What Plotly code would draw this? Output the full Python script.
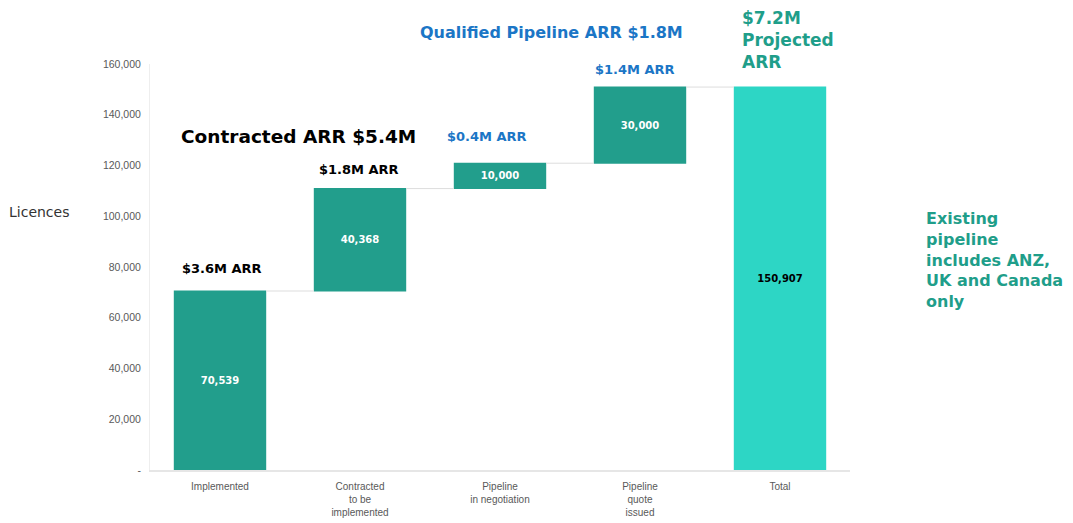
import plotly.graph_objects as go

categories = ["Implemented", "Contracted<br>to be<br>implemented", "Pipeline<br>in negotiation",
              "Pipeline<br>quote<br>issued", "Total"]
values = [70539, 40368, 10000, 30000, 150907]
measures = ["relative", "relative", "relative", "relative", "total"]
value_labels = ["70,539", "40,368", "10,000", "30,000", "150,907"]
label_colors = ["white", "white", "white", "white", "black"]
ytick_vals = [0, 20000, 40000, 60000, 80000, 100000, 120000, 140000, 160000]
ytick_text = ["-", "20,000", "40,000", "60,000", "80,000", "100,000", "120,000", "140,000", "160,000"]

TEAL = "#229E8C"
TOTAL = "#2DD6C5"
BLUE = "#1B76C6"
GREEN = "#1F9E8A"
FONT = "DejaVu Sans"

fig = go.Figure(go.Waterfall(
    x=categories, y=values, measure=measures,
    text=value_labels, textposition="inside", insidetextanchor="middle",
    textfont=dict(family=FONT, size=10, color=label_colors, weight="bold"),
    increasing=dict(marker=dict(color=TEAL)),
    totals=dict(marker=dict(color=TOTAL)),
    connector=dict(line=dict(color="#DDDDDD", width=1)),
    hoverinfo="skip",
))

W, H = 1073, 523
L, R, T, B = 150, 850, 64, 470


def px(x):
    return (x - L) / (R - L)


def py(y):
    return (B - y) / (B - T)


def ann(text, x, y, color, size, xanchor="center", align="center", bold=True, fam=FONT):
    fig.add_annotation(text=text, x=px(x), y=py(y), xref="paper", yref="paper",
                       xanchor=xanchor, yanchor="middle", align=align, showarrow=False,
                       font=dict(family=fam, size=size, color=color,
                                 weight="bold" if bold else "normal"))


ann("Qualified Pipeline ARR $1.8M", 551, 32, BLUE, 16)
ann("$7.2M<br>Projected<br>ARR", 740, 40, GREEN, 17, xanchor="left", align="left")
ann("Contracted ARR $5.4M", 298, 136, "black", 18.5)
ann("$1.8M ARR", 359, 169, "black", 13)
ann("$3.6M ARR", 222, 268, "black", 13)
ann("$0.4M ARR", 487, 136, BLUE, 13)
ann("$1.4M ARR", 635, 69, BLUE, 13)
ann("Existing<br>pipeline<br>includes ANZ,<br>UK and Canada<br>only", 924, 260, GREEN, 16,
    xanchor="left", align="left")
ann("Licences", 7, 212, "#333333", 14, xanchor="left", bold=False)

fig.update_layout(
    width=W, height=H,
    margin=dict(l=L, r=W - R, t=T, b=H - B),
    plot_bgcolor="white", paper_bgcolor="white",
    showlegend=False, waterfallgap=0.34,
    font=dict(family="Liberation Sans, Arial", size=10, color="#595959"),
)
fig.update_xaxes(showline=True, linecolor="#E6E6E6", linewidth=2, ticks="",
                 ticklabelstandoff=6, automargin=False,
                 tickfont=dict(family="Liberation Sans, Arial", size=10, color="#595959"),
                 range=[-0.5, 4.5], fixedrange=True)
fig.update_yaxes(range=[0, 160000], tickvals=ytick_vals, ticktext=ytick_text,
                 showgrid=False, zeroline=False, showline=True, linecolor="#EEEEEE",
                 linewidth=1, ticks="", ticklabelstandoff=6, automargin=False,
                 tickfont=dict(family="Liberation Sans, Arial", size=10.5, color="#595959"))

fig.write_html("out.html", config={"displayModeBar": False},
               post_script="document.body.style.margin='0';")
